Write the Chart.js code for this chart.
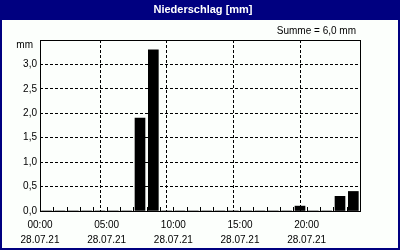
<!DOCTYPE html>
<html>
<head>
<meta charset="utf-8">
<script src="https://cdn.jsdelivr.net/npm/chart.js@4/dist/chart.umd.min.js"></script>
<style>
  html, body { margin: 0; padding: 0; background: #fff; }
  #wrap { width: 400px; height: 250px; }
</style>
</head>
<body>
<div id="wrap"><canvas id="myChart" width="400" height="250"></canvas></div>
<script>
// hourly precipitation, 28.07.21
var hours     = [0,1,2,3,4,5,6,7,8,9,10,11,12,13,14,15,16,17,18,19,20,21,22,23];
var precip    = [0,0,0,0,0,0,0,1.9,3.3,0,0,0,0,0,0,0,0,0,0,0.1,0,0,0.3,0.4];
var timeLabels = ['00:00','05:00','10:00','15:00','20:00'];
var dateLabel  = '28.07.21';
var titleText  = 'Niederschlag [mm]';
var sumText    = 'Summe = 6,0 mm';
var unitText   = 'mm';

var navy = '#000080';
var font = 'Liberation Sans';

var points = [];
for (var i = 0; i < hours.length; i++) {
    points.push({ x: hours[i] + 0.5, y: precip[i] });
}

// frame, title bar, texts, minor ticks
var decor = {
    id: 'decor',
    beforeDraw: function(chart) {
        var ctx = chart.ctx;
        ctx.save();
        ctx.fillStyle = '#fcfffc';
        ctx.fillRect(0, 0, 400, 250);
        ctx.fillStyle = navy;
        ctx.fillRect(0, 0, 400, 20);
        ctx.restore();
    },
    afterDraw: function(chart) {
        var ctx = chart.ctx;
        var a = chart.chartArea;
        var xs = chart.scales.x;
        ctx.save();
        // plot frame
        ctx.setLineDash([]);
        ctx.strokeStyle = '#000';
        ctx.lineWidth = 1;
        ctx.strokeRect(Math.round(a.left) + 0.5, Math.round(a.top) + 0.5,
                       Math.round(a.right - a.left), Math.round(a.bottom - a.top));
        // minor hour ticks, pointing inward
        for (var h = 1; h < 24; h++) {
            var px = Math.round(xs.getPixelForValue(h)) + 0.5;
            ctx.beginPath();
            ctx.moveTo(px, a.bottom);
            ctx.lineTo(px, a.bottom - 4);
            ctx.stroke();
        }
        // outer border
        ctx.strokeStyle = navy;
        ctx.lineWidth = 2;
        ctx.strokeRect(1, 1, 398, 248);
        // title
        ctx.fillStyle = '#fff';
        ctx.font = 'bold 11px "' + font + '"';
        ctx.textAlign = 'center';
        ctx.textBaseline = 'middle';
        ctx.fillText(titleText, 203, 10);
        // sum + unit
        ctx.fillStyle = '#000';
        ctx.font = '10px "' + font + '"';
        ctx.textAlign = 'right';
        ctx.fillText(sumText, 356, 31);
        ctx.fillText(unitText, 33, 45);
        ctx.restore();
    }
};

var ctx = document.getElementById('myChart').getContext('2d');
var myChart = new Chart(ctx, {
    type: 'bar',
    data: {
        datasets: [{
            data: points,
            backgroundColor: '#000',
            borderWidth: 0,
            barThickness: 10
        }]
    },
    options: {
        responsive: false,
        animation: false,
        devicePixelRatio: 1,
        layout: { padding: { top: 40, right: 40, left: 0, bottom: 0 } },
        plugins: { legend: { display: false }, tooltip: { enabled: false }, title: { display: false } },
        scales: {
            x: {
                type: 'linear',
                min: 0,
                max: 24,
                offset: false,
                afterFit: function(scale) { scale.height = 39; },
                ticks: {
                    stepSize: 1,
                    autoSkip: false,
                    maxRotation: 0,
                    padding: 7,
                    color: '#000',
                    font: { family: font, size: 10, lineHeight: 1.5 },
                    callback: function(v) {
                        if (v % 5 === 0 && v <= 20) return [timeLabels[v / 5], dateLabel];
                        return '';
                    }
                },
                grid: {
                    drawTicks: false,
                    lineWidth: 1,
                    color: function(c) {
                        var v = c.tick ? c.tick.value : 0;
                        return (v % 5 === 0 && v > 0 && v < 24) ? '#000' : 'rgba(0,0,0,0)';
                    }
                },
                border: { display: false, dash: [3, 2] }
            },
            y: {
                min: 0,
                max: 3.5,
                afterFit: function(scale) { scale.width = 40; },
                ticks: {
                    stepSize: 0.5,
                    padding: 3,
                    color: '#000',
                    font: { family: font, size: 10 },
                    callback: function(v) {
                        if (v >= 3.5) return '';
                        return v.toFixed(1).replace('.', ',');
                    }
                },
                grid: {
                    drawTicks: false,
                    lineWidth: 1,
                    color: function(c) {
                        var v = c.tick ? c.tick.value : 0;
                        return (v > 0 && v < 3.5) ? '#000' : 'rgba(0,0,0,0)';
                    }
                },
                border: { display: false, dash: [3, 2] }
            }
        }
    },
    plugins: [decor]
});
</script>
</body>
</html>
